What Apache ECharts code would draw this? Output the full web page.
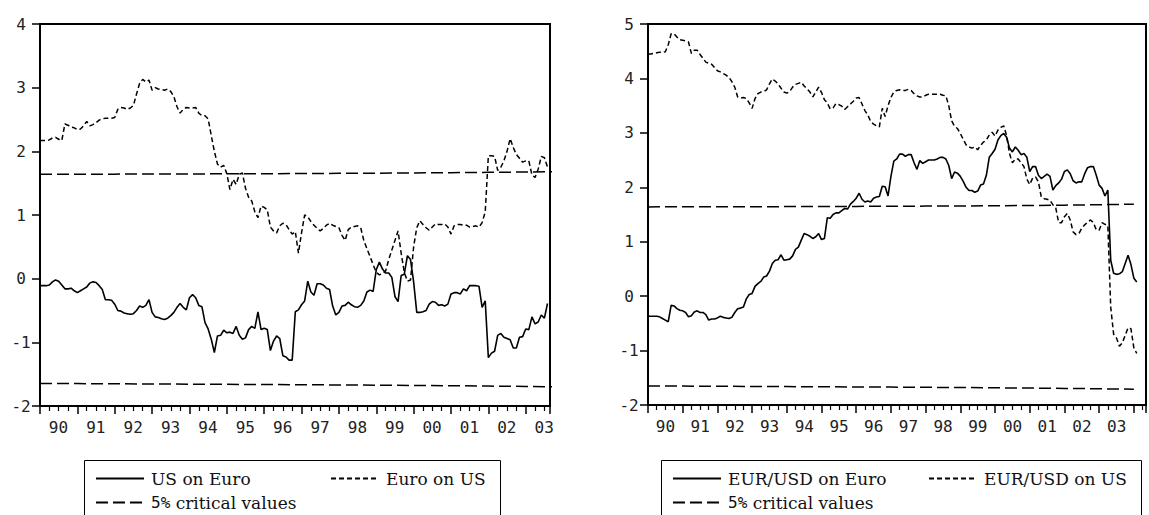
<!DOCTYPE html>
<html><head><meta charset="utf-8">
<script src="https://cdn.jsdelivr.net/npm/echarts@6/dist/echarts.min.js"></script>
<style>html,body{margin:0;padding:0;background:#fff}#c{width:1149px;height:515px}</style>
</head><body><div id="c"></div>
<script>
// ---- data (monthly, starting 1990M1) ----
const startYear = 1990;
const xTickLabels = ['90','91','92','93','94','95','96','97','98','99','00','01','02','03'];
const leftYTicks = ['-2','-1','0','1','2','3','4'];
const rightYTicks = ['-2','-1','0','1','2','3','4','5'];

const usOnEuro = [
-0.11,-0.11,-0.11,-0.10,-0.05,-0.02,-0.04,-0.10,-0.16,-0.16,-0.15,-0.19,
-0.22,-0.19,-0.16,-0.13,-0.07,-0.05,-0.06,-0.11,-0.17,-0.33,-0.33,-0.34,
-0.40,-0.50,-0.51,-0.54,-0.55,-0.56,-0.55,-0.50,-0.43,-0.45,-0.42,-0.33,
-0.53,-0.60,-0.61,-0.63,-0.64,-0.62,-0.58,-0.53,-0.45,-0.39,-0.45,-0.49,
-0.30,-0.25,-0.30,-0.42,-0.44,-0.69,-0.79,-0.95,-1.16,-0.90,-0.89,-0.81,
-0.85,-0.84,-0.86,-0.75,-0.89,-0.95,-0.93,-0.80,-0.75,-0.78,-0.52,-0.80,
-0.78,-0.80,-1.13,-0.98,-0.90,-0.94,-1.21,-1.23,-1.28,-1.28,-0.52,-0.49,
-0.41,-0.35,-0.04,-0.21,-0.26,-0.08,-0.08,-0.10,-0.15,-0.17,-0.43,-0.57,
-0.53,-0.43,-0.42,-0.37,-0.41,-0.44,-0.45,-0.42,-0.35,-0.21,-0.18,-0.20,
0.14,0.26,0.15,0.09,0.09,0.02,-0.28,-0.36,0.05,0.07,0.36,0.30,
-0.05,-0.53,-0.53,-0.52,-0.50,-0.40,-0.36,-0.37,-0.42,-0.41,-0.43,-0.40,
-0.24,-0.22,-0.22,-0.24,-0.16,-0.19,-0.11,-0.11,-0.11,-0.12,-0.45,-0.35,
-1.24,-1.17,-1.14,-0.89,-0.86,-0.92,-0.94,-0.96,-1.09,-1.09,-0.92,-0.91,
-0.79,-0.80,-0.60,-0.71,-0.68,-0.57,-0.62,-0.39];

const euroOnUs = [
2.17,2.17,2.17,2.18,2.21,2.22,2.19,2.17,2.43,2.41,2.38,2.37,
2.34,2.35,2.40,2.47,2.40,2.42,2.45,2.49,2.51,2.52,2.52,2.52,
2.53,2.66,2.69,2.68,2.66,2.68,2.72,2.90,3.07,3.13,3.09,3.12,
2.96,3.00,2.98,2.97,2.96,2.98,2.94,2.86,2.70,2.60,2.66,2.69,
2.68,2.68,2.69,2.60,2.56,2.56,2.51,2.25,2.00,1.80,1.75,1.78,
1.65,1.40,1.56,1.48,1.64,1.66,1.42,1.28,1.22,1.05,0.96,1.14,
1.12,1.08,0.81,0.75,0.72,0.83,0.87,0.85,0.77,0.70,0.74,0.40,
0.72,1.00,0.97,0.90,0.84,0.79,0.75,0.79,0.84,0.87,0.84,0.82,
0.80,0.68,0.60,0.77,0.81,0.82,0.83,0.80,0.60,0.47,0.35,0.22,
0.10,0.06,0.08,0.12,0.30,0.45,0.60,0.75,0.40,0.10,-0.04,-0.02,
0.50,0.80,0.91,0.85,0.80,0.76,0.81,0.86,0.85,0.85,0.86,0.81,
0.70,0.83,0.85,0.85,0.84,0.84,0.81,0.82,0.83,0.81,0.88,1.05,
1.93,1.93,1.92,1.70,1.75,1.85,2.00,2.20,2.06,1.95,1.89,1.83,
1.85,1.85,1.63,1.59,1.72,1.92,1.90,1.75];

const eurusdOnEuro = [
-0.37,-0.37,-0.37,-0.37,-0.38,-0.41,-0.44,-0.47,-0.17,-0.18,-0.23,-0.26,
-0.27,-0.30,-0.38,-0.36,-0.29,-0.27,-0.30,-0.30,-0.34,-0.44,-0.42,-0.42,
-0.40,-0.37,-0.39,-0.40,-0.41,-0.39,-0.30,-0.23,-0.22,-0.20,-0.05,0.03,
0.05,0.18,0.23,0.27,0.35,0.37,0.46,0.60,0.66,0.67,0.76,0.66,
0.67,0.68,0.74,0.86,0.90,1.03,1.15,1.13,1.10,1.06,1.09,1.15,
1.04,1.06,1.44,1.43,1.50,1.53,1.53,1.57,1.61,1.60,1.69,1.74,
1.80,1.89,1.78,1.73,1.75,1.73,1.80,1.82,1.83,2.02,2.01,1.84,
2.20,2.48,2.52,2.61,2.61,2.57,2.60,2.60,2.45,2.33,2.49,2.44,
2.47,2.50,2.50,2.50,2.52,2.55,2.55,2.52,2.40,2.16,2.28,2.26,
2.20,2.11,2.00,1.94,1.94,1.91,1.93,2.04,2.06,2.22,2.55,2.62,
2.70,2.87,2.95,2.99,2.92,2.72,2.65,2.74,2.68,2.60,2.62,2.55,
2.29,2.38,2.38,2.22,2.16,2.20,2.24,2.20,1.95,2.03,2.08,2.15,
2.29,2.32,2.25,2.12,2.08,2.10,2.10,2.25,2.36,2.38,2.38,2.22,
2.04,1.98,1.84,1.95,0.66,0.42,0.40,0.41,0.45,0.60,0.75,0.58,
0.33,0.26];

const eurusdOnUs = [
4.45,4.45,4.46,4.47,4.48,4.48,4.49,4.62,4.82,4.82,4.76,4.71,
4.70,4.69,4.67,4.46,4.52,4.52,4.44,4.37,4.30,4.28,4.26,4.20,
4.14,4.12,4.09,4.06,4.02,3.94,3.84,3.66,3.64,3.65,3.63,3.55,
3.45,3.63,3.72,3.75,3.76,3.79,3.90,3.99,3.95,3.90,3.82,3.75,
3.73,3.76,3.84,3.89,3.91,3.93,3.86,3.81,3.75,3.66,3.75,3.84,
3.74,3.61,3.55,3.44,3.46,3.54,3.52,3.49,3.43,3.48,3.53,3.58,
3.64,3.65,3.53,3.41,3.33,3.21,3.16,3.13,3.11,3.45,3.30,3.50,
3.65,3.75,3.78,3.79,3.78,3.78,3.80,3.78,3.72,3.68,3.66,3.66,
3.69,3.71,3.71,3.71,3.71,3.71,3.69,3.68,3.50,3.22,3.12,3.08,
2.99,2.88,2.78,2.74,2.72,2.74,2.69,2.77,2.83,2.87,2.96,3.01,
2.94,3.05,3.10,3.13,2.95,2.62,2.45,2.52,2.52,2.45,2.38,2.15,
2.05,2.17,2.19,2.10,1.82,1.79,1.78,1.76,1.68,1.62,1.35,1.35,
1.46,1.52,1.40,1.18,1.13,1.15,1.25,1.31,1.36,1.40,1.35,1.22,
1.21,1.35,1.32,1.30,-0.20,-0.70,-0.77,-0.92,-0.86,-0.72,-0.58,-0.60,
-0.95,-1.05];

// critical values, one reading per January (1990..2004)
const leftCritUpper  = [1.640,1.641,1.642,1.643,1.645,1.647,1.649,1.651,1.654,1.657,1.661,1.665,1.670,1.675,1.680];
const leftCritLower  = [-1.645,-1.648,-1.651,-1.654,-1.657,-1.660,-1.663,-1.666,-1.669,-1.673,-1.677,-1.682,-1.687,-1.693,-1.700];
const rightCritUpper = [1.640,1.641,1.642,1.643,1.645,1.647,1.649,1.651,1.654,1.657,1.661,1.666,1.672,1.680,1.690];
const rightCritLower = [-1.650,-1.653,-1.656,-1.659,-1.662,-1.665,-1.668,-1.671,-1.675,-1.679,-1.684,-1.689,-1.695,-1.702,-1.710];

// ---- chart ----
const monthly = arr => arr.map((v,i)=>[startYear + i/12, v]);
const yearly = arr => arr.map((v,i)=>[startYear + i, v]);
const monoFont = '"DejaVu Sans Mono", monospace';
const serifFont = '"DejaVu Serif", "Liberation Serif", serif';

function xAxisCfg(gridIndex, max, pad){
  return {
    type:'value', gridIndex, min:startYear, max, interval:1,
    axisLine:{show:true, onZero:false, lineStyle:{color:'#000', width:2}},
    axisTick:{show:true, length:8, lineStyle:{color:'#000', width:1.5}},
    minorTick:{show:true, splitNumber:4, length:5, lineStyle:{color:'#000', width:1.2}},
    splitLine:{show:false}, minorSplitLine:{show:false},
    axisLabel:{
      margin:13, color:'#222', fontFamily:monoFont, fontSize:16,
      padding:[0,0,0,pad],
      formatter:v => { const k = Math.round(v - startYear); return (Math.abs(v - startYear - k) < 1e-6 && k < xTickLabels.length) ? xTickLabels[k] : ''; }
    }
  };
}
function yAxisCfg(gridIndex, min, max, labels){
  return {
    type:'value', gridIndex, min, max, interval:1,
    axisLine:{show:true, onZero:false, lineStyle:{color:'#000', width:2}},
    axisTick:{show:true, length:8, lineStyle:{color:'#000', width:1.5}},
    splitLine:{show:false},
    axisLabel:{
      margin:19, align:'center', color:'#222', fontFamily:monoFont, fontSize:16,
      formatter:v => { const k = Math.round(v - min); return labels[k] !== undefined ? labels[k] : ''; }
    }
  };
}
const solid  = {color:'#000', width:1.6, type:'solid'};
const short  = {color:'#000', width:1.5, type:[5,3]};
const longd  = {color:'#000', width:1.5, type:[12,5]};
function line(name, data, xi, style){
  return {name, type:'line', xAxisIndex:xi, yAxisIndex:xi, data, symbol:'none', showSymbol:false,
          lineStyle:style, itemStyle:{color:'#000'}, animation:false, z:3};
}
function legendItem(name, left, top){
  return {
    data:[name], left, top, orient:'horizontal', itemWidth:48, itemHeight:14, itemGap:0,
    selectedMode:false, padding:0,
    itemStyle:{opacity:0, borderWidth:0},
    textStyle:{fontFamily:serifFont, fontSize:17, color:'#111', padding:[0,0,0,2],
      rich:{m:{fontFamily:monoFont, fontSize:16, color:'#111'}, s:{fontFamily:serifFont, fontSize:17, color:'#111'}}},
    formatter: n => n.indexOf('5%')===0 ? '{m|5%} {s|' + n.slice(3) + '}' : n
  };
}

const chart = echarts.init(document.getElementById('c'), null, {renderer:'svg', width:1149, height:515});
chart.setOption({
  animation:false,
  backgroundColor:'#fff',
  grid:[
    {left:40, top:24, width:510, height:382, show:true, borderColor:'#000', borderWidth:2, containLabel:false},
    {left:648, top:24, width:510, height:381, show:true, borderColor:'#000', borderWidth:2, containLabel:false}
  ],
  xAxis:[ xAxisCfg(0, 2003.65, 37), xAxisCfg(1, 2004.35, 35) ],
  yAxis:[ yAxisCfg(0, -2, 4, leftYTicks), yAxisCfg(1, -2, 5, rightYTicks) ],
  legend:[
    legendItem('US on Euro', 95, 470),
    legendItem('Euro on US', 330, 470),
    legendItem('5% critical values', 95, 494),
    legendItem('EUR/USD on Euro', 672, 470),
    legendItem('EUR/USD on US', 928, 470),
    legendItem('5% critical values', 672, 494)
  ],
  graphic:[
    {type:'rect', shape:{x:84.5, y:460.5, width:416, height:80}, style:{fill:'none', stroke:'#000', lineWidth:1}, silent:true},
    {type:'rect', shape:{x:661.5, y:460.5, width:480, height:80}, style:{fill:'none', stroke:'#000', lineWidth:1}, silent:true}
  ],
  series:[
    line('US on Euro', monthly(usOnEuro), 0, solid),
    line('Euro on US', monthly(euroOnUs), 0, short),
    line('5% critical values', yearly(leftCritUpper), 0, longd),
    line('5% critical values', yearly(leftCritLower), 0, longd),
    line('EUR/USD on Euro', monthly(eurusdOnEuro), 1, solid),
    line('EUR/USD on US', monthly(eurusdOnUs), 1, short),
    line('5% critical values', yearly(rightCritUpper), 1, longd),
    line('5% critical values', yearly(rightCritLower), 1, longd)
  ]
});
</script></body></html>
